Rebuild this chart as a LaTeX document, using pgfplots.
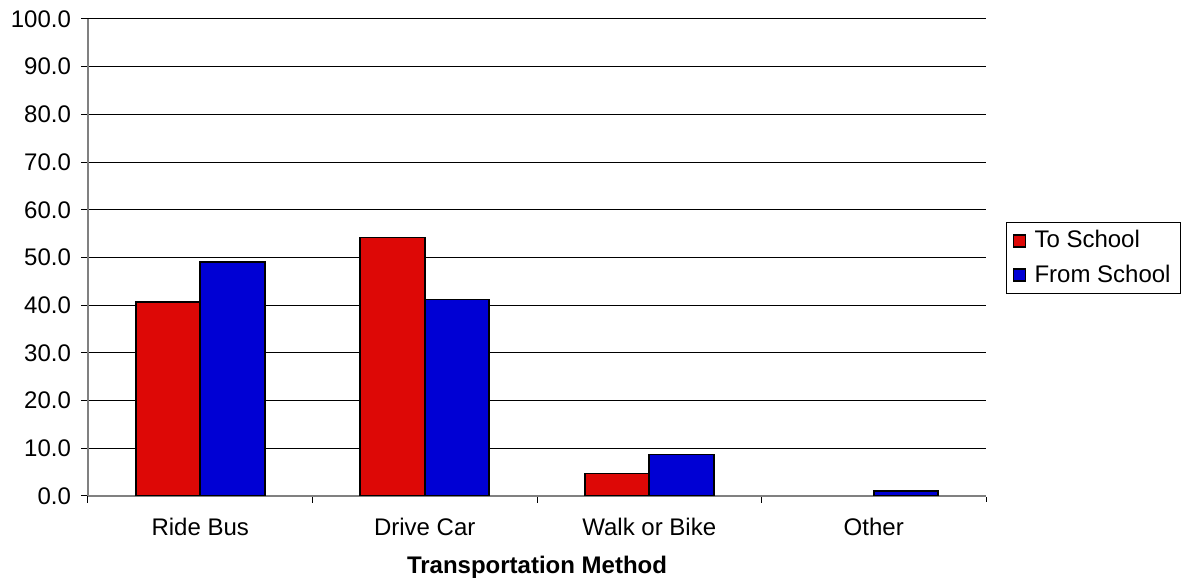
\documentclass[border=0pt]{standalone}
\usepackage{fontspec}
\setmainfont{Liberation Sans}
\usepackage{pgfplots}
\pgfplotsset{compat=1.18}
\definecolor{barred}{RGB}{221,8,6}
\definecolor{barblue}{RGB}{0,0,212}
\definecolor{axisgray}{RGB}{128,128,128}

\begin{document}
\begin{tikzpicture}
\path[use as bounding box] (-44pt,-43pt) rectangle (546.5pt,248pt);
\begin{axis}[
    at={(0,0)}, anchor=south west,
    scale only axis, width=449pt, height=238.5pt,
    ybar=0pt, bar width=32.25pt,
    xmin=-0.5, xmax=3.5, ymin=0, ymax=100,
    ytick distance=10,
    axis lines*=left,
    axis line style={axisgray, line width=0.6pt},
    ymajorgrids, grid style={black, line width=0.5pt},
    tick align=outside,
    major tick length=3.5pt,
    tick style={black, line width=0.5pt},
    xtick={-0.5,0.5,1.5,2.5,3.5},
    xticklabels={},
    x tick style={shorten <=0.5pt, shorten >=0.5pt},
    extra x ticks={0,1,2,3},
    extra x tick labels={Ride Bus, Drive Car, Walk or Bike, Other},
    extra x tick style={grid=none, major tick length=0pt,
        xticklabel style={anchor=base, yshift=-19.75pt}},
    ticklabel style={font=\fontsize{12}{14}\selectfont},
    /pgf/number format/.cd, fixed, fixed zerofill, precision=1, assume math mode=true,
    /pgfplots/.cd,
    yticklabel style={anchor=east, xshift=-1.5pt},
    xlabel={\textbf{Transportation Method}},
    xlabel style={at={(axis description cs:0.5,-0.1489)}, anchor=center,
        font=\fontsize{12}{14}\selectfont},
    legend style={at={(1.0223,0.499)}, anchor=west, draw=black,
        line width=0.5pt, font=\fontsize{12}{14}\selectfont,
        row sep=3pt, inner xsep=3pt, inner ysep=2pt},
    legend cell align=left,
    legend image code/.code={
        \draw[#1, line width=0.9pt] (0.5pt,-3pt) rectangle (6.5pt,3pt);
        \path[draw=none, fill=none] (0pt,0pt) -- (9pt,0pt);},
]
\addplot[fill=barred, draw=black, line width=0.9pt] coordinates {
    (0, 40.7)
    (1, 54.2)
    (2, 4.7)
};
\addlegendentry{To School}
\addplot[fill=barblue, draw=black, line width=0.9pt] coordinates {
    (0, 49.0)
    (1, 41.2)
    (2, 8.7)
    (3, 1.1)
};
\addlegendentry{From School}
\end{axis}
\end{tikzpicture}
\end{document}
